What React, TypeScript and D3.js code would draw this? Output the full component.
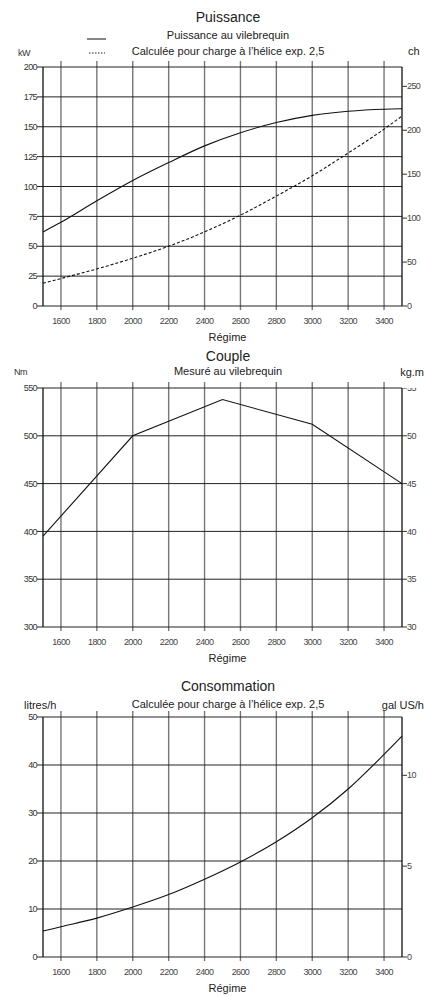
import React from "react";
import * as d3 from "d3";

// ---- data ----
const rpmTicks = [1600, 1800, 2000, 2200, 2400, 2600, 2800, 3000, 3200, 3400];

const powerRpm = [1500, 1600, 1800, 2000, 2200, 2400, 2600, 2800, 3000, 3200, 3400, 3500];
const powerCrank = [62, 70, 88, 105, 120, 134, 145, 153.5, 159.5, 163, 164.7, 165];
const powerProp = [19, 23, 31, 40, 50, 62, 76, 92, 109, 128, 148, 159];
const kwTicks = [0, 25, 50, 75, 100, 125, 150, 175, 200];
const chTicks = [0, 50, 100, 150, 200, 250];

const torqueRpm = [1500, 2000, 2500, 3000, 3500];
const torqueNm = [395, 500, 538, 512, 450];
const nmTicks = [300, 350, 400, 450, 500, 550];
const kgmTicks = [30, 35, 40, 45, 50, 55];

const fuelRpm = [1500, 1600, 1800, 2000, 2200, 2400, 2600, 2800, 3000, 3200, 3400, 3500];
const fuelLh = [5.4, 6.3, 8.1, 10.4, 13.0, 16.2, 19.8, 24, 29, 35, 42.2, 46];
const lhTicks = [0, 10, 20, 30, 40, 50];
const galTicks = [0, 5, 10];

const FONT = "'Liberation Sans', Arial, Helvetica, sans-serif";
const LEFT = 43;
const RIGHT = 402;

type Series = { rpm: number[]; vals: number[]; dash?: string; straight?: boolean };

function Panel({
  id, top, bottom, yDomain, leftTicks, rightDomain, rightTicks, series,
}: {
  id: string; top: number; bottom: number; yDomain: [number, number]; leftTicks: number[];
  rightDomain: [number, number]; rightTicks: number[]; series: Series[];
}) {
  const x = d3.scaleLinear().domain([1500, 3500]).range([LEFT, RIGHT]);
  const y = d3.scaleLinear().domain(yDomain).range([bottom, top]);
  const yr = d3.scaleLinear().domain(rightDomain).range([bottom, top]);

  return (
    <g>
      <defs>
        <clipPath id={`clip-${id}`}>
          <rect x={RIGHT} y={top} width={30} height={bottom - top + 10} />
        </clipPath>
      </defs>
      {rpmTicks.map(t => (
        <line key={t} x1={x(t)} x2={x(t)} y1={top - 6} y2={bottom + 4} stroke="#777" strokeWidth={1.4} />
      ))}
      {leftTicks.map(t => (
        <g key={t}>
          <line x1={LEFT - 6} x2={RIGHT} y1={y(t)} y2={y(t)} stroke="#222" strokeWidth={1} />
          <text x={LEFT - 6} y={y(t)} dy="0.35em" textAnchor="end" fontSize={9} letterSpacing={-0.6} fill="#333">{t}</text>
        </g>
      ))}
      <line x1={LEFT} x2={LEFT} y1={top} y2={bottom} stroke="#111" strokeWidth={1.3} />
      <line x1={RIGHT} x2={RIGHT} y1={top} y2={bottom} stroke="#111" strokeWidth={1.3} />
      <g clipPath={`url(#clip-${id})`}>
        {rightTicks.map(t => (
          <g key={t}>
            <line x1={RIGHT} x2={RIGHT + 5} y1={yr(t)} y2={yr(t)} stroke="#333" strokeWidth={1} />
            <text x={RIGHT + 5} y={yr(t)} dy="0.35em" fontSize={9} letterSpacing={-0.6} fill="#444">{t}</text>
          </g>
        ))}
      </g>
      {rpmTicks.map(t => (
        <text key={t} x={x(t)} y={bottom + 18} textAnchor="middle" fontSize={9} letterSpacing={-0.6} fill="#444">{t}</text>
      ))}
      <text x={(LEFT + RIGHT) / 2 + 5} y={bottom + 35} textAnchor="middle" fontSize={11} fill="#222">Régime</text>
      {series.map((s, i) => {
        const line = d3.line<[number, number]>()
          .x(d => x(d[0]))
          .y(d => y(d[1]))
          .curve(s.straight ? d3.curveLinear : d3.curveMonotoneX);
        return (
          <path key={i}
            d={line(s.rpm.map((r, j) => [r, s.vals[j]] as [number, number])) || ""}
            fill="none" stroke="#111" strokeWidth={1.1} strokeDasharray={s.dash} />
        );
      })}
    </g>
  );
}

export default function App() {
  return (
    <svg width={425} height={996} style={{ display: "block", position: "absolute", left: 0, top: 0, background: "#fff" }} fontFamily={FONT}>
      {/* Puissance */}
      <text x={228} y={22} textAnchor="middle" fontSize={14} fill="#222">Puissance</text>
      <line x1={87} x2={106} y1={39} y2={39} stroke="#222" strokeWidth={1.1} />
      <text x={228} y={39} textAnchor="middle" fontSize={11} fill="#222">Puissance au vilebrequin</text>
      <line x1={89} x2={105} y1={53} y2={53} stroke="#222" strokeWidth={1.1} strokeDasharray="1.5,1.5" />
      <text x={228} y={55} textAnchor="middle" fontSize={11} fill="#222">Calculée pour charge à l’hélice exp. 2,5</text>
      <text x={18} y={56} fontSize={9} letterSpacing={-0.6} fill="#333">kW</text>
      <text x={408} y={55} fontSize={11} fill="#222">ch</text>
      <Panel id="p1" top={67} bottom={306} yDomain={[0, 200]} leftTicks={kwTicks}
        rightDomain={[0, 200 * 1.36]} rightTicks={chTicks}
        series={[
          { rpm: powerRpm, vals: powerCrank },
          { rpm: powerRpm, vals: powerProp, dash: "3,2" },
        ]} />

      {/* Couple */}
      <text x={228} y={361} textAnchor="middle" fontSize={14} fill="#222">Couple</text>
      <text x={228} y={375} textAnchor="middle" fontSize={11} fill="#222">Mesuré au vilebrequin</text>
      <text x={14} y={375} fontSize={9} letterSpacing={-0.6} fill="#333">Nm</text>
      <text x={424} y={376} textAnchor="end" fontSize={11} fill="#222">kg.m</text>
      <Panel id="p2" top={388} bottom={627} yDomain={[300, 550]} leftTicks={nmTicks}
        rightDomain={[30, 55]} rightTicks={kgmTicks}
        series={[{ rpm: torqueRpm, vals: torqueNm, straight: true }]} />

      {/* Consommation */}
      <text x={228} y={691} textAnchor="middle" fontSize={14} fill="#222">Consommation</text>
      <text x={228} y={708} textAnchor="middle" fontSize={11} fill="#222">Calculée pour charge à l’hélice exp. 2,5</text>
      <text x={24} y={709} fontSize={11} fill="#222">litres/h</text>
      <text x={424} y={709} textAnchor="end" fontSize={11} fill="#222">gal US/h</text>
      <Panel id="p3" top={717} bottom={957} yDomain={[0, 50]} leftTicks={lhTicks}
        rightDomain={[0, 50 / 3.785]} rightTicks={galTicks}
        series={[{ rpm: fuelRpm, vals: fuelLh }]} />
    </svg>
  );
}
